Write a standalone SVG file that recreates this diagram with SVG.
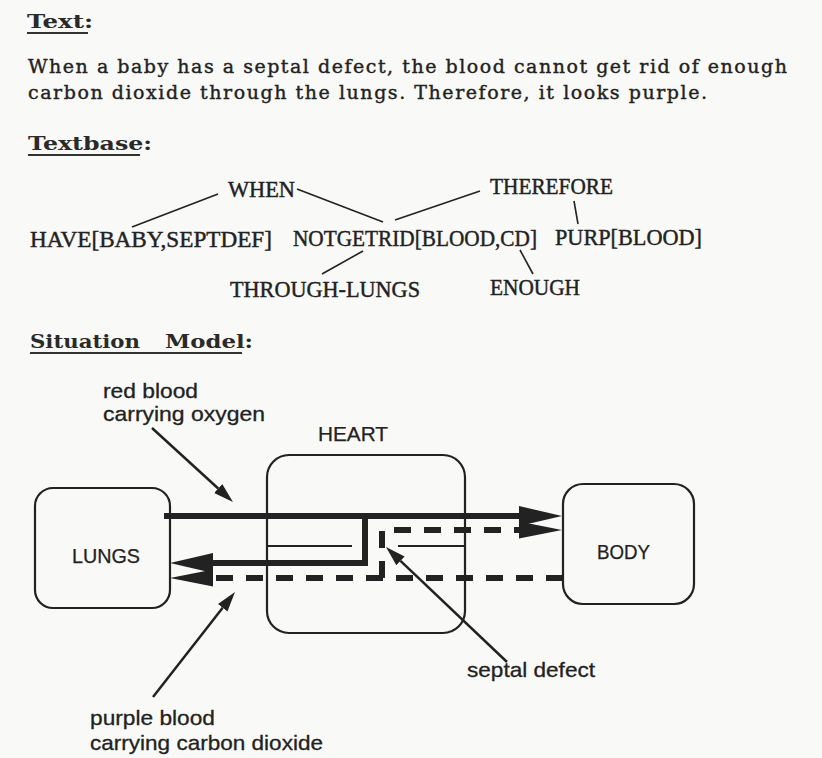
<svg xmlns="http://www.w3.org/2000/svg" width="822" height="758" viewBox="0 0 822 758">
<defs>
<style>
.hdr{font-family:"DejaVu Serif","Liberation Serif",serif;font-weight:bold;font-size:19px;fill:#2a2a2a}
.para{font-family:"DejaVu Serif","Liberation Serif",serif;font-size:19px;fill:#222;stroke:#222;stroke-width:0.4}
.tb{font-family:"Liberation Serif","Times New Roman",serif;font-size:23.5px;fill:#222;stroke:#222;stroke-width:0.45}
.sm{font-family:"Liberation Sans",Arial,sans-serif;font-size:21px;fill:#222;stroke:#222;stroke-width:0.3}
.lab{font-family:"Liberation Sans",Arial,sans-serif;font-size:20px;fill:#222;stroke:#222;stroke-width:0.25}
.ul{stroke:#333;stroke-width:2}
.tbl{stroke:#222;stroke-width:1.6;fill:none}
.box{fill:none;stroke:#222;stroke-width:2.2}
.flow{fill:none;stroke:#222;stroke-width:6}
.dash{stroke-dasharray:17 13}
.thin{stroke:#222;stroke-width:2}
.ptr{stroke:#222;stroke-width:2.5;fill:none}
</style>
<marker id="big" markerUnits="userSpaceOnUse" viewBox="0 -11 44 22" markerWidth="44" markerHeight="22" refX="0" refY="0" orient="auto"><path d="M0,-10 L43,0 L0,10 z" fill="#222"/></marker>
<marker id="bigd" markerUnits="userSpaceOnUse" viewBox="0 -11 44 22" markerWidth="44" markerHeight="22" refX="0" refY="0" orient="auto"><path d="M0,-8.5 L43,0 L0,8.5 z" fill="#222"/></marker>
<marker id="small" markerUnits="userSpaceOnUse" viewBox="0 -7 20 14" markerWidth="20" markerHeight="14" refX="0" refY="0" orient="auto"><path d="M0,-6 L20,0 L0,6 z" fill="#222"/></marker>
</defs>
<rect x="0" y="0" width="822" height="758" fill="#f9f9f7"/>

<g id="headers">
<text class="hdr" x="27" y="28" textLength="66" lengthAdjust="spacingAndGlyphs">Text:</text>
<line class="ul" x1="27" y1="33" x2="88" y2="33"/>
<text class="hdr" x="28" y="150" textLength="124" lengthAdjust="spacingAndGlyphs">Textbase:</text>
<line class="ul" x1="28" y1="155" x2="140" y2="155"/>
<text class="hdr" y="348"><tspan x="30" textLength="110" lengthAdjust="spacingAndGlyphs">Situation</tspan><tspan x="165" textLength="88" lengthAdjust="spacingAndGlyphs">Model:</tspan></text>
<line class="ul" x1="30" y1="353" x2="242" y2="353"/>
</g>

<g id="paragraph">
<text class="para" x="28" y="73" textLength="759" lengthAdjust="spacing">When a baby has a septal defect, the blood cannot get rid of enough</text>
<text class="para" x="28" y="99" textLength="679" lengthAdjust="spacing">carbon dioxide through the lungs. Therefore, it looks purple.</text>
</g>

<g id="tb-when"><text class="tb" x="228" y="197" textLength="67" lengthAdjust="spacingAndGlyphs">WHEN</text></g>
<g id="tb-therefore"><text class="tb" x="490" y="194" textLength="123" lengthAdjust="spacingAndGlyphs">THEREFORE</text></g>
<g id="tb-have"><text class="tb" x="30" y="247" textLength="242" lengthAdjust="spacingAndGlyphs">HAVE[BABY,SEPTDEF]</text></g>
<g id="tb-notgetrid"><text class="tb" x="293" y="246" textLength="244" lengthAdjust="spacingAndGlyphs">NOTGETRID[BLOOD,CD]</text></g>
<g id="tb-purp"><text class="tb" x="555" y="245" textLength="147" lengthAdjust="spacingAndGlyphs">PURP[BLOOD]</text></g>
<g id="tb-through"><text class="tb" x="230" y="297" textLength="190" lengthAdjust="spacingAndGlyphs">THROUGH-LUNGS</text></g>
<g id="tb-enough"><text class="tb" x="490" y="295" textLength="90" lengthAdjust="spacingAndGlyphs">ENOUGH</text></g>

<g id="lungs">
<rect class="box" x="35" y="488" width="135" height="120" rx="18"/>
<text class="lab" x="72" y="563" textLength="68" lengthAdjust="spacingAndGlyphs">LUNGS</text>
</g>
<g id="heart">
<rect class="box" x="267" y="455" width="198" height="178" rx="22"/>
<text class="lab" x="318" y="441" textLength="70" lengthAdjust="spacingAndGlyphs">HEART</text>
<line class="thin" x1="268" y1="546" x2="352" y2="546"/>
<line class="thin" x1="398" y1="546" x2="464" y2="546"/>
</g>
<g id="body">
<rect class="box" x="563" y="484" width="131" height="120" rx="20"/>
<text class="lab" x="597" y="559" textLength="53" lengthAdjust="spacingAndGlyphs">BODY</text>
</g>

<g id="label-red">
<text class="sm" x="103" y="398" textLength="95" lengthAdjust="spacingAndGlyphs">red blood</text>
<text class="sm" x="103" y="421" textLength="162" lengthAdjust="spacingAndGlyphs">carrying oxygen</text>
</g>
<g id="label-purple">
<text class="sm" x="90" y="725" textLength="125" lengthAdjust="spacingAndGlyphs">purple blood</text>
<text class="sm" x="90" y="750" textLength="233" lengthAdjust="spacingAndGlyphs">carrying carbon dioxide</text>
</g>
<g id="label-septal">
<text class="sm" x="467" y="677" textLength="128" lengthAdjust="spacingAndGlyphs">septal defect</text>
</g>

<g id="connectors">
<line class="tbl" x1="132" y1="227" x2="218" y2="194"/>
<line class="tbl" x1="297" y1="189" x2="383" y2="222"/>
<line class="tbl" x1="395" y1="220" x2="480" y2="191"/>
<line class="tbl" x1="574" y1="201" x2="578" y2="224"/>
<line class="tbl" x1="363" y1="251" x2="322" y2="274"/>
<line class="tbl" x1="520" y1="250" x2="533" y2="274"/>

<path class="flow" d="M164,516 H519" marker-end="url(#big)"/>
<path class="flow" d="M365,516 V563 H213" marker-end="url(#big)"/>
<path class="flow dash" d="M563,578 H213" marker-end="url(#bigd)"/>
<path class="flow dash" d="M382,578 V530 H519" marker-end="url(#bigd)"/>

<line class="ptr" x1="152" y1="428" x2="218.2" y2="488.5" marker-end="url(#small)"/>
<line class="ptr" x1="153" y1="697" x2="222.7" y2="607.8" marker-end="url(#small)"/>
<line class="ptr" x1="507" y1="662" x2="400.5" y2="560.8" marker-end="url(#small)"/>
</g>
</svg>
